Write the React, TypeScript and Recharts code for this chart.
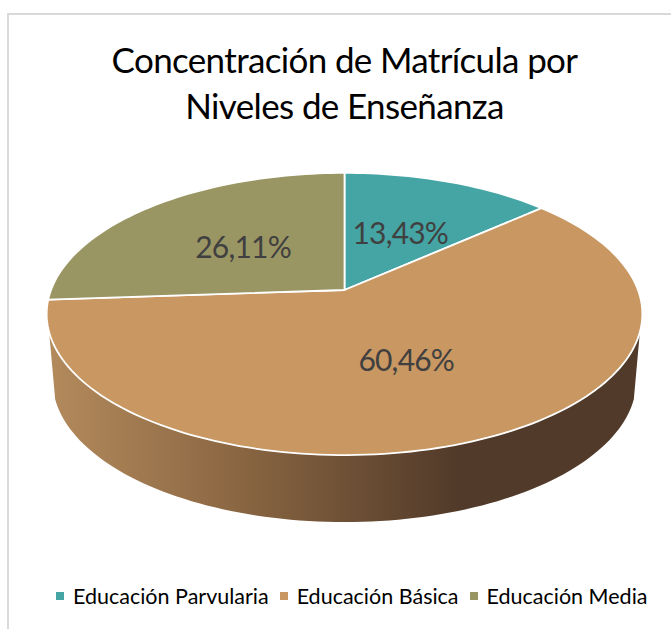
import React from "react";
import { PieChart, Pie, Cell, Legend } from "recharts";

const categories = ["Educación Parvularia", "Educación Básica", "Educación Media"];
const shares = [13.43, 60.46, 26.11];
const titleLines = ["Concentración de Matrícula por", "Niveles de Enseñanza"];
const colors = ["#45A5A4", "#C89762", "#9A9664"];

const rows = categories.map((name, i) => ({ name, value: shares[i] }));

const W = 671, H = 629;
const FONT = "Lato, sans-serif";
const CX = 344.5, CY = 290, R = 137;
const STRETCH = 293.5 / 137;
const TILT = 0.17;
const DEPTH = 67;
const BOTTOM_X = 287.5 / 293.5;
const WALL_FROM = -163, WALL_TO = -17;
const D2R = Math.PI / 180;

// perspective projection of a point of the pie disc onto the page
function project(cx: number, cy: number, r: number, deg: number, frac = 1, drop = 0, xScale = 1) {
  const u = Math.cos(deg * D2R) * frac;
  const v = Math.sin(deg * D2R) * frac;
  const w = 1 + TILT * v;
  return [cx + (xScale * STRETCH * r * u) / w, cy + drop - (r * v) / w];
}
function arc(cx: number, cy: number, r: number, a0: number, a1: number, drop = 0, xScale = 1) {
  const n = Math.max(2, Math.ceil(Math.abs(a1 - a0) / 1.5));
  const pts: number[][] = [];
  for (let i = 0; i <= n; i++) pts.push(project(cx, cy, r, a0 + ((a1 - a0) * i) / n, 1, drop, xScale));
  return pts;
}
const toPath = (pts: number[][]) => "M" + pts.map((p) => p[0].toFixed(2) + " " + p[1].toFixed(2)).join("L") + "Z";

function TopFace(props: any) {
  const { cx, cy, outerRadius, startAngle, endAngle, fill } = props;
  const pts = [[cx, cy], ...arc(cx, cy, outerRadius, startAngle, endAngle)];
  return <path d={toPath(pts)} fill={fill} stroke="#fff" strokeWidth={1.8} strokeLinejoin="round" />;
}

function Wall(props: any) {
  const { cx, cy, outerRadius, startAngle, endAngle } = props;
  const start = Math.max(Math.min(startAngle, endAngle), WALL_FROM);
  const end = Math.min(Math.max(startAngle, endAngle), WALL_TO);
  if (end <= start) return <g />;
  const top = arc(cx, cy, outerRadius, start, end);
  const bottom = arc(cx, cy, outerRadius, end, start, DEPTH, BOTTOM_X);
  return <path d={toPath([...top, ...bottom])} fill="url(#wallShade)" />;
}

const renderLabel = (p: any) => {
  const [x, y] = project(p.cx, p.cy, p.outerRadius, p.midAngle, 0.5);
  return (
    <text x={x} y={y} fill="#404040" fontFamily={FONT} fontSize={30} letterSpacing={-0.8} textAnchor="middle" dominantBaseline="central">
      {p.value.toFixed(2).replace(".", ",") + "%"}
    </text>
  );
};

const renderLegend = (props: any) => {
  const visible = (props.payload || []).filter((item: any) => item.type !== "none");
  const items = categories
    .map((name) => visible.find((item: any) => item.value === name))
    .filter(Boolean);
  return (
    <div style={{ display: "flex", alignItems: "center", whiteSpace: "nowrap", fontFamily: FONT, fontSize: 21.5, color: "#000" }}>
      {items.map((item: any) => (
        <span key={item.value} style={{ display: "flex", alignItems: "center", marginRight: 11 }}>
          <span style={{ width: 8, height: 8, marginRight: 9, background: item.color }} />
          {item.value}
        </span>
      ))}
    </div>
  );
};

export default function App() {
  return (
    <div style={{ position: "absolute", left: 0, top: 0, width: W, height: H, overflow: "hidden", background: "#fff" }}>
      <div style={{ position: "absolute", left: 7, top: 13, width: W, height: H, borderLeft: "2px solid #d9d9d9", borderTop: "2px solid #d9d9d9" }} />
      <div style={{ position: "absolute", left: 0, top: 36, width: 689, textAlign: "center", fontFamily: FONT, fontSize: 35, letterSpacing: -0.65, lineHeight: "46px", color: "#000" }}>
        {titleLines.map((t) => <div key={t}>{t}</div>)}
      </div>
      <div style={{ position: "absolute", left: 0, top: 0 }}>
        <PieChart width={W} height={H} margin={{ top: 0, right: 0, bottom: 0, left: 0 }}>
          <defs>
            <linearGradient id="wallShade" gradientUnits="userSpaceOnUse" x1={50} y1={0} x2={460} y2={0}>
              <stop offset="0" stopColor="#B38A5C" />
              <stop offset="0.46" stopColor="#8A6642" />
              <stop offset="1" stopColor="#513A29" />
            </linearGradient>
          </defs>
          <Pie data={rows} dataKey="value" nameKey="name" cx={CX} cy={CY} outerRadius={R} startAngle={90} endAngle={-270}
            isAnimationActive={false} legendType="none" shape={Wall} stroke="none">
            {colors.map((c) => <Cell key={c} fill={c} />)}
          </Pie>
          <Pie data={rows} dataKey="value" nameKey="name" cx={CX} cy={CY} outerRadius={R} startAngle={90} endAngle={-270}
            isAnimationActive={false} shape={TopFace} label={renderLabel} labelLine={false}>
            {colors.map((c) => <Cell key={c} fill={c} />)}
          </Pie>
          <Legend content={renderLegend} itemSorter={null}
            wrapperStyle={{ left: 56, width: 615, top: 583, bottom: "auto" }} />
        </PieChart>
      </div>
    </div>
  );
}
